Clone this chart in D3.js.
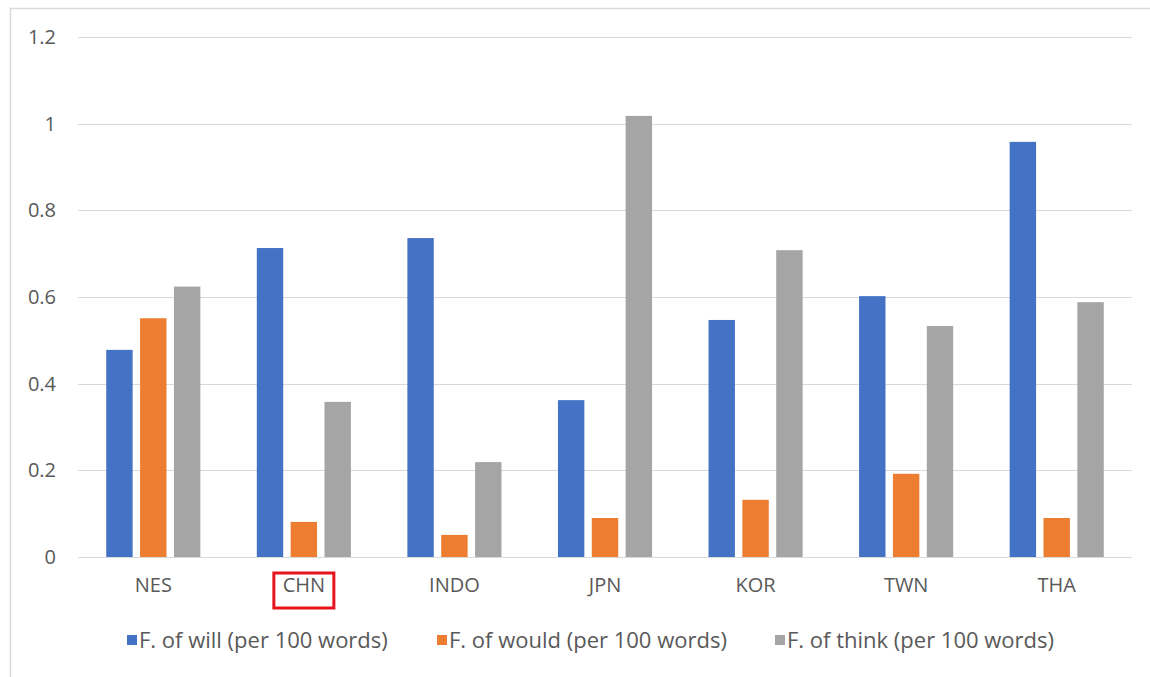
<!DOCTYPE html>
<html>
<head>
<meta charset="utf-8">
<script src="https://cdn.jsdelivr.net/npm/d3@7"></script>
<style>
  html, body { margin: 0; padding: 0; background: #fff; }
  svg { display: block; }
  text { font-family: "Open Sans", "Noto Sans", sans-serif; fill: #595959; }
</style>
</head>
<body>
<svg id="chart" width="1150" height="677"></svg>
<script>
// Frequency of modal/verb use per 100 words, by learner group
const categories = ["NES", "CHN", "INDO", "JPN", "KOR", "TWN", "THA"];
const seriesNames = ["F. of will (per 100 words)", "F. of would (per 100 words)", "F. of think (per 100 words)"];
const willValues  = [0.478, 0.713, 0.736, 0.362, 0.547, 0.602, 0.958];
const wouldValues = [0.551, 0.081, 0.051, 0.090, 0.132, 0.192, 0.090];
const thinkValues = [0.624, 0.358, 0.219, 1.018, 0.708, 0.533, 0.588];
const yTicks = [0, 0.2, 0.4, 0.6, 0.8, 1, 1.2];
const highlighted = "CHN";

const colors = ["#4472C4", "#ED7D31", "#A5A5A5"];
const seriesValues = [willValues, wouldValues, thinkValues];

const svg = d3.select("#chart");

// outer frame of the chart area
svg.append("rect")
  .attr("x", 10.5).attr("y", 8.5)
  .attr("width", 1200).attr("height", 700)
  .attr("fill", "none").attr("stroke", "#d9d9d9").attr("stroke-width", 1.5);

const plot = { left: 78, right: 1132, top: 37, bottom: 557 };

const x0 = d3.scaleBand()
  .domain(categories)
  .range([plot.left, plot.right])
  .paddingInner(0.375)
  .paddingOuter(0.1875);

const x1 = d3.scaleBand()
  .domain(d3.range(seriesNames.length))
  .range([0, x0.bandwidth()])
  .paddingInner(0.22);

const y = d3.scaleLinear().domain([0, 1.2]).range([plot.bottom, plot.top]);

// gridlines
svg.append("g")
  .selectAll("line")
  .data(yTicks)
  .join("line")
  .attr("x1", plot.left).attr("x2", plot.right)
  .attr("y1", d => Math.round(y(d)) + 0.5).attr("y2", d => Math.round(y(d)) + 0.5)
  .attr("stroke", "#d9d9d9").attr("stroke-width", 1.2);

// y axis labels
const yAxis = d3.axisLeft(y).tickValues(yTicks).tickSize(0).tickPadding(0)
  .tickFormat(d => d3.format("")(+d.toFixed(1)));
const yg = svg.append("g").attr("transform", `translate(56,0)`).call(yAxis);
yg.select(".domain").remove();
yg.selectAll("text")
  .attr("font-size", 20)
  .attr("font-family", "\"Open Sans\", sans-serif")
  .attr("fill", "#595959");

// bars
const groups = svg.append("g")
  .selectAll("g")
  .data(categories)
  .join("g")
  .attr("transform", d => `translate(${x0(d)},0)`);

groups.selectAll("rect")
  .data((c, i) => seriesValues.map((vals, s) => ({ s, v: vals[i] })))
  .join("rect")
  .attr("x", d => x1(d.s))
  .attr("width", x1.bandwidth())
  .attr("y", d => y(d.v))
  .attr("height", d => y(0) - y(d.v))
  .attr("fill", d => colors[d.s]);

// x axis labels
const xAxis = d3.axisBottom(x0).tickSize(0).tickPadding(0);
const xg = svg.append("g").attr("transform", `translate(0,${plot.bottom + 21})`).call(xAxis);
xg.select(".domain").remove();
xg.selectAll("text")
  .attr("font-size", 20)
  .attr("font-family", "\"Open Sans\", sans-serif")
  .attr("fill", "#595959");

// box around the highlighted group label
svg.append("rect")
  .attr("x", x0(highlighted) + x0.bandwidth() / 2 - 30)
  .attr("y", 573)
  .attr("width", 60).attr("height", 35)
  .attr("fill", "none").attr("stroke", "#e8141c").attr("stroke-width", 3);

// legend
const legendX = [127, 437, 775];
const legend = svg.append("g")
  .selectAll("g")
  .data(seriesNames)
  .join("g")
  .attr("transform", (d, i) => `translate(${legendX[i]},640)`);
legend.append("rect")
  .attr("x", 0).attr("y", -5).attr("width", 10).attr("height", 10)
  .attr("fill", (d, i) => colors[i]);
legend.append("text")
  .attr("x", 12).attr("y", 0)
  .attr("dy", "0.35em")
  .attr("font-size", 22)
  .text(d => d);
</script>
</body>
</html>
